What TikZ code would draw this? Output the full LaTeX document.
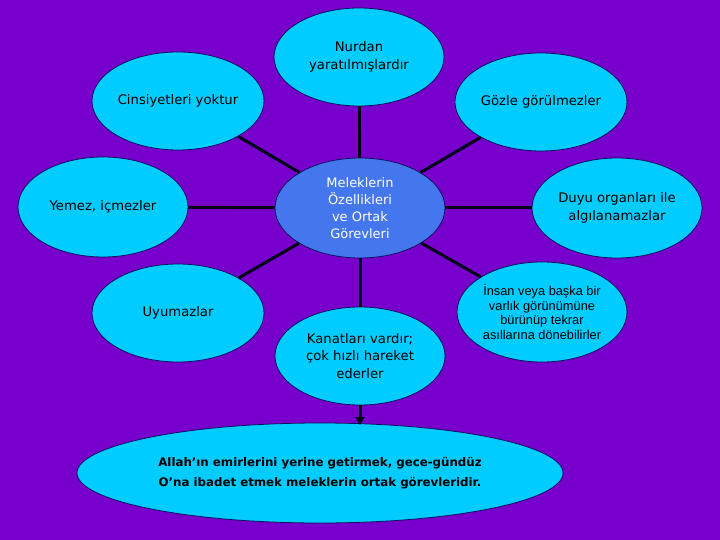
\documentclass[tikz,border=0pt]{standalone}
\usepackage{fontspec}
\setmainfont{DejaVu Sans}
\newfontfamily\arialfont{Liberation Sans}
\usetikzlibrary{shapes.geometric,arrows.meta}
\definecolor{bgpurple}{HTML}{7700CC}
\definecolor{lightcyan}{HTML}{00CCFF}
\definecolor{midblue}{HTML}{4477EE}
\definecolor{edgeblue}{HTML}{101060}
\tikzset{
  bubble/.style={ellipse, draw=edgeblue, line width=0.8pt, fill=lightcyan, inner sep=0pt,
    minimum width=170pt, minimum height=98pt, align=center, text=black,
    font=\fontsize{13.2}{18}\selectfont},
  hub/.style={bubble, fill=midblue, text=white, minimum height=100pt,
    font=\fontsize{13}{16.8}\selectfont},
  link/.style={line width=3pt, draw=black!90!blue}
}
\begin{document}
\begin{tikzpicture}[x=1pt,y=-1pt]
\fill[bgpurple] (0,0) rectangle (720,540);
\useasboundingbox (0,0) rectangle (720,540);
\node[hub] (c) at (360,208) {Meleklerin\\Özellikleri\\ve Ortak\\Görevleri};
\node[bubble] (top) at (359,57) {Nurdan\\yaratılmışlardır};
\node[bubble, minimum width=172pt] (cins) at (178,101) {Cinsiyetleri yoktur};
\node[bubble, minimum width=172pt] (goz) at (541,102) {Gözle görülmezler};
\node[bubble, minimum height=100pt] (yem) at (103,207) {Yemez, içmezler};
\node[bubble, minimum height=100pt] (duyu) at (617,208) {Duyu organları ile\\algılanamazlar};
\node[bubble, minimum width=172pt] (uyu) at (178,313) {Uyumazlar};
\node[bubble, font=\fontsize{13.2}{17.5}\selectfont] (kan) at (360,356) {Kanatları vardır;\\çok hızlı hareket\\ederler};
\node[bubble, minimum height=100pt, font=\arialfont\fontsize{12.8}{14.5}\selectfont] (ins) at (542,312) {İnsan veya başka bir\\varlık görünümüne\\bürünüp tekrar\\asıllarına dönebilirler};
\node[bubble, minimum width=486pt, minimum height=100pt, font=\bfseries\fontsize{11.8}{20}\selectfont] (big) at (320,473) {Allah\symbol{39}ın emirlerini yerine getirmek, gece-gündüz\\O\symbol{39}na ibadet etmek meleklerin ortak görevleridir.};
\draw[link] (c) -- (top);
\draw[link] (c) -- (cins);
\draw[link] (c) -- (goz);
\draw[link] (c) -- (yem);
\draw[link] (c) -- (duyu);
\draw[link] (c) -- (uyu);
\draw[link] (c) -- (kan);
\draw[link] (c) -- (ins);
\coordinate (arrowend) at (360,425);
\draw[link, -{Triangle[length=8pt,width=9pt]}] (kan.south) -- (arrowend);
\end{tikzpicture}
\end{document}
